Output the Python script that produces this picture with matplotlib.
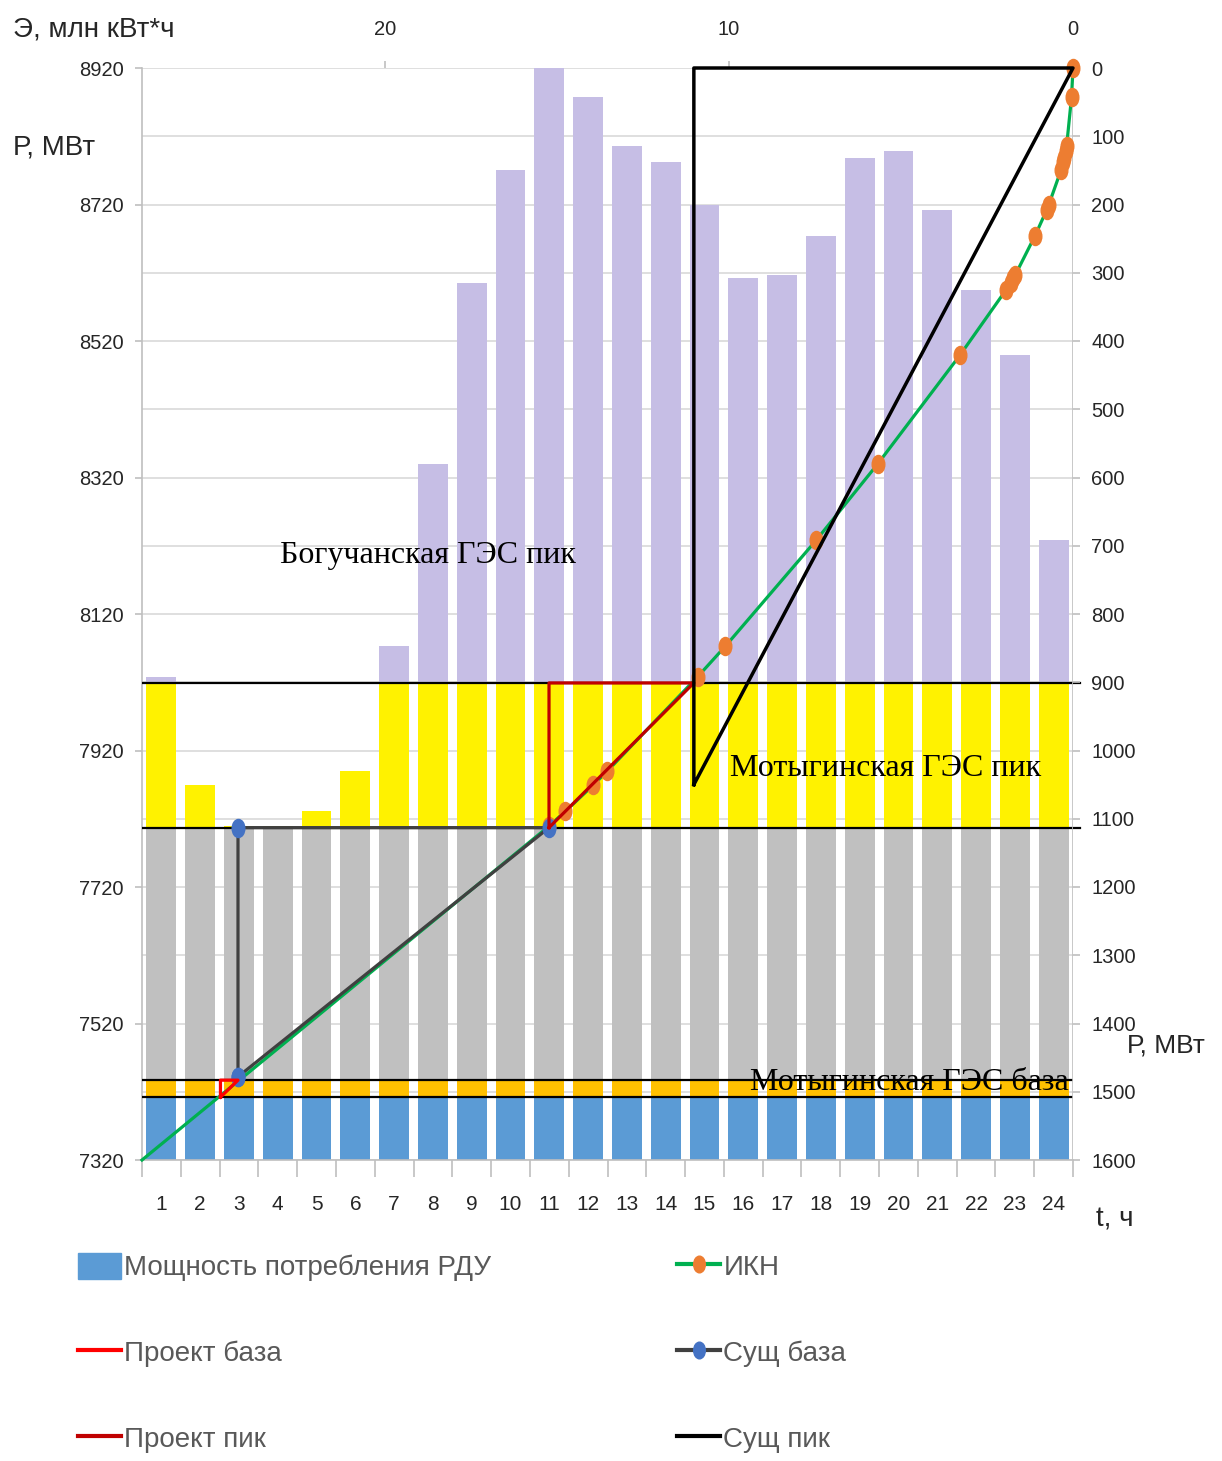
import numpy as np
import matplotlib
matplotlib.use('Agg')
import matplotlib.pyplot as plt
from matplotlib.patches import Patch
from matplotlib.lines import Line2D
from matplotlib.path import Path
from matplotlib.transforms import Affine2D

# ---------------- data ----------------
hours = list(range(1, 25))
load = [8028, 7869, 7809, 7809, 7831, 7890, 8073, 8340, 8605, 8770, 8920, 8877,
        8806, 8782, 8719, 8612, 8617, 8674, 8788, 8798, 8712, 8595, 8499, 8228]
# tops of zones: consumption base, Motyginskaya base, existing base, Motyginskaya peak
band_levels = [7412, 7437, 7806, 8019]
band_colors = ['#5B9BD5', '#FFC000', '#C0C0C0', '#FFF200', '#C6BEE5']

left_ticks = [7320, 7520, 7720, 7920, 8120, 8320, 8520, 8720, 8920]
right_ticks = list(range(0, 1700, 100))
top_ticks = [0, 10, 20]

# ИКН: energy (млн кВт*ч) vs power (МВт)
ikn_E = [0, 0.043, 0.185, 0.209, 0.249, 0.279, 0.351, 0.708, 0.764, 1.106, 1.676, 1.731,
         1.815, 1.945, 3.289, 5.674, 7.466, 10.101, 10.911, 13.533, 13.953, 14.751, 15.235, 27.06]
ikn_P = [0, 43, 114, 122, 132, 138, 150, 201, 208, 246, 303, 308,
         315, 325, 421, 580, 692, 847, 892, 1030, 1051, 1089, 1111, 1600]

sushch_baza_E = [24.27, 24.27, 15.23, 24.27]
sushch_baza_P = [1478, 1113, 1113, 1478]
proekt_baza_E = [24.78, 24.78, 24.27, 24.78]
proekt_baza_P = [1508, 1483, 1483, 1508]
proekt_pik_E = [15.23, 15.23, 11.02, 15.23]
proekt_pik_P = [1113, 901, 901, 1113]
sushch_pik_E = [11.02, 11.02, 0, 11.02]
sushch_pik_P = [1050, 0, 0, 1050]

# ---------------- figure ----------------
sans = ['Liberation Sans', 'DejaVu Sans']
serif = ['Liberation Serif', 'DejaVu Serif']
tcol = '#262626'
W, H = 1222, 1461
fig = plt.figure(figsize=(W / 100, H / 100), dpi=100)
pos = [142 / W, 1 - 1160 / H, (1073 - 142) / W, (1160 - 68) / H]
ax = fig.add_axes(pos)

x = np.arange(len(hours))
ld = np.array(load, dtype=float)
prev = 0.0
tops = band_levels + [1e9]
for top, col in zip(tops, band_colors):
    h = np.minimum(ld, top) - np.minimum(ld, prev)
    ax.bar(x, h, bottom=np.minimum(ld, prev), width=0.77, color=col, zorder=2)
    prev = top

ax.set_xlim(-0.5, 23.5)
ax.set_ylim(7320, 8920)
ax.set_yticks(left_ticks)
ax.set_yticks(np.arange(7320, 8921, 100), minor=True)
ax.grid(axis='y', which='both', color='#D9D9D9', lw=1.2, zorder=0)
ax.set_axisbelow(True)
ax.set_xticks(x)
ax.set_xticklabels([str(h) for h in hours])
ax.set_xticks(np.arange(-0.5, 24, 1), minor=True)
ax.tick_params(axis='x', which='major', length=0, pad=25, labelsize=15, labelcolor=tcol)
ax.tick_params(axis='x', which='minor', length=12, color='#BFBFBF', width=1.2)
ax.tick_params(axis='y', which='major', length=5, color='#BFBFBF', width=1.2, pad=8,
               labelsize=14.5, labelcolor=tcol)
ax.tick_params(axis='y', which='minor', length=0)
for lab in ax.get_xticklabels() + ax.get_yticklabels():
    lab.set_family(sans)
for s in ['top', 'right']:
    ax.spines[s].set_visible(False)
for s in ['left', 'bottom']:
    ax.spines[s].set_color('#BFBFBF')
    ax.spines[s].set_linewidth(1.2)

# horizontal zone boundaries (upper two extend a little past the right axis)
for i, lv in enumerate(band_levels):
    ax.plot([-0.5, 23.5], [lv, lv], color='black', lw=1.6, zorder=3)
    if i >= 2:
        ax.plot([23.5, 23.68], [lv, lv], color='black', lw=1.6, zorder=3, clip_on=False)

# ---------------- secondary axes (energy / power) ----------------
ax2 = fig.add_axes(pos, frameon=False)
ax2.patch.set_visible(False)
ax2.set_xlim(27.06, 0)
ax2.set_ylim(1600, 0)
ax2.xaxis.tick_top()
ax2.yaxis.tick_right()
ax2.set_xticks(top_ticks)
ax2.set_yticks(right_ticks)
ax2.tick_params(axis='x', length=5, color='#BFBFBF', width=1.2, pad=16, labelsize=14.5,
                labelcolor=tcol)
ax2.tick_params(axis='y', length=5, color='#BFBFBF', width=1.2, pad=8, labelsize=14.5,
                labelcolor=tcol)
for lab in ax2.get_xticklabels() + ax2.get_yticklabels():
    lab.set_family(sans)
ax2.axvline(0, color='#BFBFBF', lw=1.2, zorder=1)

ell = Path.unit_circle().transformed(Affine2D().scale(0.7, 1.0))

ax2.plot(ikn_E, ikn_P, color='#00B050', lw=2.3, zorder=4, clip_on=False,
         marker=ell, markersize=13, markerfacecolor='#ED7D31', markeredgecolor='#ED7D31',
         markevery=list(range(len(ikn_E) - 1)))
ax2.plot(sushch_baza_E, sushch_baza_P, color='#404040', lw=2.3, zorder=5,
         marker=ell, markersize=13, markerfacecolor='#4472C4', markeredgecolor='#4472C4')
ax2.plot(proekt_baza_E, proekt_baza_P, color='#FF0000', lw=2.3, zorder=6)
ax2.plot(proekt_pik_E, proekt_pik_P, color='#C00000', lw=2.3, zorder=6)
ax2.plot(sushch_pik_E, sushch_pik_P, color='black', lw=2.5, zorder=6, clip_on=False)

# ---------------- texts ----------------
def ftext(px, py, s, **kw):
    fig.text(px / W, 1 - py / H, s, **kw)

ftext(280, 556, 'Богучанская ГЭС пик', family=serif, fontsize=23, va='center', color='black')
ftext(730, 768, 'Мотыгинская ГЭС пик', family=serif, fontsize=23, va='center', color='black')
ftext(750, 1083, 'Мотыгинская ГЭС база', family=serif, fontsize=23, va='center', color='black')
ftext(13, 30, 'Э, млн кВт*ч', family=sans, fontsize=20, va='center', color=tcol)
ftext(13, 148, 'Р, МВт', family=sans, fontsize=20, va='center', color=tcol)
ftext(1127, 1045, 'Р, МВт', family=sans, fontsize=19, va='center', color=tcol)
ftext(1096, 1220, 't, ч', family=sans, fontsize=20, va='center', color=tcol)

# ---------------- legend ----------------
ms = dict(marker=ell, markersize=12)
col1 = [Patch(facecolor='#5B9BD5', edgecolor='#5B9BD5'),
        Line2D([], [], color='#FF0000', lw=3),
        Line2D([], [], color='#C00000', lw=3)]
lab1 = ['Мощность потребления РДУ', 'Проект база', 'Проект пик']
col2 = [Line2D([], [], color='#00B050', lw=3, markerfacecolor='#ED7D31',
               markeredgecolor='#ED7D31', **ms),
        Line2D([], [], color='#404040', lw=3, markerfacecolor='#4472C4',
               markeredgecolor='#4472C4', **ms),
        Line2D([], [], color='black', lw=3)]
lab2 = ['ИКН', 'Сущ база', 'Сущ пик']
common = dict(loc='upper left', frameon=False, prop={'family': sans, 'size': 20},
              labelcolor='#595959', handlelength=1.55, handletextpad=0.12,
              labelspacing=2.07, handleheight=1.05, borderaxespad=0, borderpad=0)
leg1 = fig.legend(col1, lab1, bbox_to_anchor=(78 / W, 1 - 1253 / H), **common)
leg2 = fig.legend(col2, lab2, bbox_to_anchor=(677 / W, 1 - 1253 / H), **common)

fig.savefig('out.png', dpi=100)
